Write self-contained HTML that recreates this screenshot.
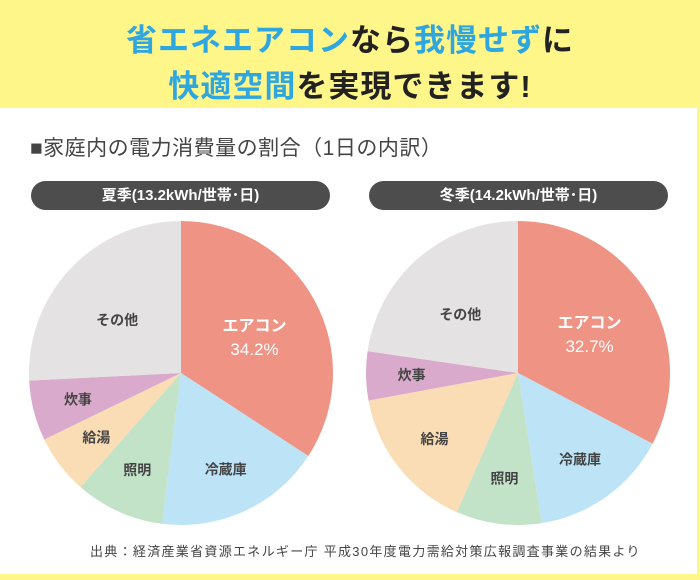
<!DOCTYPE html>
<html><head><meta charset="utf-8"><style>
body{margin:0;width:700px;height:580px;background:#fff68a;font-family:"Liberation Sans","Noto Sans CJK JP",sans-serif;position:relative;overflow:hidden}
.t{position:absolute;left:0;width:700px;text-align:center;font-size:31px;font-weight:bold;color:#222;letter-spacing:1px}
.b{color:#2ea7e0}
#panel{position:absolute;left:0;top:108px;width:697px;height:466px;background:#fff}
.sub{position:absolute;left:30px;top:132px;font-size:21px;color:#444;letter-spacing:0.5px}
.pill{position:absolute;top:181px;width:299px;height:29px;border-radius:15px;background:#4d4d4d;color:#fff;font-size:15px;font-weight:bold;text-align:center;line-height:29px}
.src{position:absolute;left:90px;top:541px;font-size:13px;color:#444;letter-spacing:1.3px}
svg{position:absolute;left:0;top:0}
</style></head><body>
<div class="t" style="top:15px"><span class="b">省エネエアコン</span>なら<span class="b">我慢せず</span>に</div>
<div class="t" style="top:61px"><span class="b">快適空間</span>を実現できます!</div>
<div id="panel"></div>
<div class="sub">■家庭内の電力消費量の割合（1日の内訳）</div>
<div class="pill" style="left:31px">夏季(13.2kWh/世帯･日)</div>
<div class="pill" style="left:369px">冬季(14.2kWh/世帯･日)</div>
<svg id="chart" width="700" height="580"></svg>
<div class="src">出典：経済産業省資源エネルギー庁 平成30年度電力需給対策広報調査事業の結果より</div>
<script>
const categories=["エアコン","冷蔵庫","照明","給湯","炊事","その他"];
const summerValues=[34.2,17.8,9.5,6.3,6.4,25.8];
const winterValues=[32.7,14.8,9.1,15.5,5.2,22.7];
const colors=["#ef9484","#bde3f7","#c3e3c8","#fadcb5","#d9aacb","#e4e2e3"];
const NS="http://www.w3.org/2000/svg";
const svg=document.getElementById("chart");
function pt(cx,cy,r,a){return [cx+r*Math.sin(a),cy-r*Math.cos(a)];}
function pie(cx,cy,r,vals,name){
  const tot=vals.reduce((a,b)=>a+b,0);let a0=0;
  vals.forEach((v,i)=>{
    const a1=a0+v/tot*2*Math.PI;
    const p0=pt(cx,cy,r,a0),p1=pt(cx,cy,r,a1);
    const path=document.createElementNS(NS,"path");
    path.setAttribute("d",`M${cx},${cy}L${p0[0]},${p0[1]}A${r},${r} 0 ${a1-a0>Math.PI?1:0} 1 ${p1[0]},${p1[1]}Z`);
    path.setAttribute("fill",colors[i]);
    
    
    svg.appendChild(path);
    const m=(a0+a1)/2;const lr=i==0?0.55:(i==5?0.58:0.7);
    const lp=pt(cx,cy,r*lr,m);
    const t=document.createElementNS(NS,"text");
    t.setAttribute("x",lp[0]);t.setAttribute("y",lp[1]+(i==0?-2:(i==5?13:5)));
    t.setAttribute("text-anchor","middle");
    t.setAttribute("fill",i==0?"#fff":"#444");
    t.setAttribute("font-size",i==0?"16":"14");
    t.setAttribute("font-weight","bold");
    
    
    t.textContent=categories[i];
    svg.appendChild(t);
    if(i==0){
      const t2=document.createElementNS(NS,"text");
      t2.setAttribute("x",lp[0]);t2.setAttribute("y",lp[1]+22);
      t2.setAttribute("text-anchor","middle");t2.setAttribute("fill","#fff");
      t2.setAttribute("font-size","17");
      
      
      t2.textContent=v.toFixed(1)+"%";
      svg.appendChild(t2);
    }
    a0=a1;
  });
}
pie(181,373,152,summerValues,"summer");
pie(518,373,152,winterValues,"winter");
</script>
</body></html>
